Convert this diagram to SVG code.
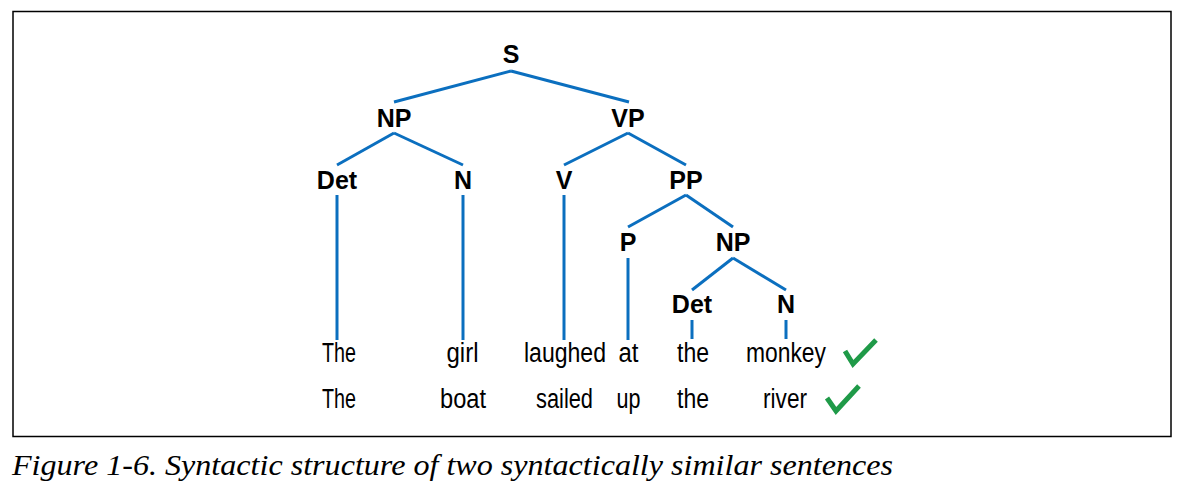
<svg xmlns="http://www.w3.org/2000/svg" width="1182" height="490" viewBox="0 0 1182 490">
<style>
.lbl{font-family:"Liberation Sans",sans-serif;font-weight:bold;font-size:25px;fill:#000;text-anchor:middle}
.word{font-family:"Liberation Sans",sans-serif;font-size:27px;fill:#000;text-anchor:middle}
.edge{stroke:#0b6fbf;stroke-width:3;fill:none}
.tick{stroke:#1f9a48;stroke-width:5;fill:none;stroke-linejoin:miter}
.cap{font-family:"Liberation Serif",serif;font-style:italic;font-size:30px;fill:#000}
</style>
<rect x="13" y="11.5" width="1158" height="425" fill="#fff" stroke="#000" stroke-width="1.5"/>
<g id="connectors">
<line class="edge" x1="511" y1="71" x2="394" y2="102"/>
<line class="edge" x1="511" y1="71" x2="629" y2="102"/>
<line class="edge" x1="394" y1="133" x2="337" y2="165"/>
<line class="edge" x1="394" y1="133" x2="463" y2="165"/>
<line class="edge" x1="628" y1="133" x2="564" y2="165"/>
<line class="edge" x1="628" y1="133" x2="686" y2="165"/>
<line class="edge" x1="686" y1="195" x2="628" y2="227"/>
<line class="edge" x1="686" y1="195" x2="733" y2="227"/>
<line class="edge" x1="733" y1="258" x2="692" y2="290"/>
<line class="edge" x1="733" y1="258" x2="786" y2="290"/>
<line class="edge" x1="337" y1="195" x2="337" y2="340"/>
<line class="edge" x1="463" y1="195" x2="463" y2="340"/>
<line class="edge" x1="564" y1="195" x2="564" y2="340"/>
<line class="edge" x1="628" y1="258" x2="628" y2="340"/>
<line class="edge" x1="692" y1="320" x2="692" y2="339"/>
<line class="edge" x1="786" y1="320" x2="786" y2="339"/>
</g>
<g id="S"><text class="lbl" x="511" y="63">S</text></g>
<g id="NP1"><text class="lbl" x="394" y="127">NP</text></g>
<g id="VP"><text class="lbl" x="628" y="127">VP</text></g>
<g id="Det1"><text class="lbl" x="337" y="189">Det</text></g>
<g id="N1"><text class="lbl" x="463" y="189">N</text></g>
<g id="V"><text class="lbl" x="564" y="189">V</text></g>
<g id="PP"><text class="lbl" x="686" y="189">PP</text></g>
<g id="P"><text class="lbl" x="628" y="251">P</text></g>
<g id="NP2"><text class="lbl" x="733" y="251">NP</text></g>
<g id="Det2"><text class="lbl" x="692" y="313">Det</text></g>
<g id="N2"><text class="lbl" x="786" y="313">N</text></g>
<g id="sentence1">
<text class="word" x="339" y="362" textLength="34" lengthAdjust="spacingAndGlyphs">The</text>
<text class="word" x="462.5" y="362" textLength="32" lengthAdjust="spacingAndGlyphs">girl</text>
<text class="word" x="565" y="362" textLength="82" lengthAdjust="spacingAndGlyphs">laughed</text>
<text class="word" x="628.5" y="362" textLength="20" lengthAdjust="spacingAndGlyphs">at</text>
<text class="word" x="693" y="362" textLength="32" lengthAdjust="spacingAndGlyphs">the</text>
<text class="word" x="786" y="362" textLength="80" lengthAdjust="spacingAndGlyphs">monkey</text>
<polyline class="tick" points="845,351 853,364 876,340"/>
</g>
<g id="sentence2">
<text class="word" x="339" y="408" textLength="34" lengthAdjust="spacingAndGlyphs">The</text>
<text class="word" x="463" y="408" textLength="46" lengthAdjust="spacingAndGlyphs">boat</text>
<text class="word" x="564.5" y="408" textLength="57" lengthAdjust="spacingAndGlyphs">sailed</text>
<text class="word" x="628.5" y="408" textLength="24" lengthAdjust="spacingAndGlyphs">up</text>
<text class="word" x="693" y="408" textLength="32" lengthAdjust="spacingAndGlyphs">the</text>
<text class="word" x="785" y="408" textLength="44" lengthAdjust="spacingAndGlyphs">river</text>
<polyline class="tick" points="827,398 836,411 859,386"/>
</g>
<text class="cap" x="12" y="475" textLength="881" lengthAdjust="spacingAndGlyphs">Figure 1-6. Syntactic structure of two syntactically similar sentences</text>
</svg>
